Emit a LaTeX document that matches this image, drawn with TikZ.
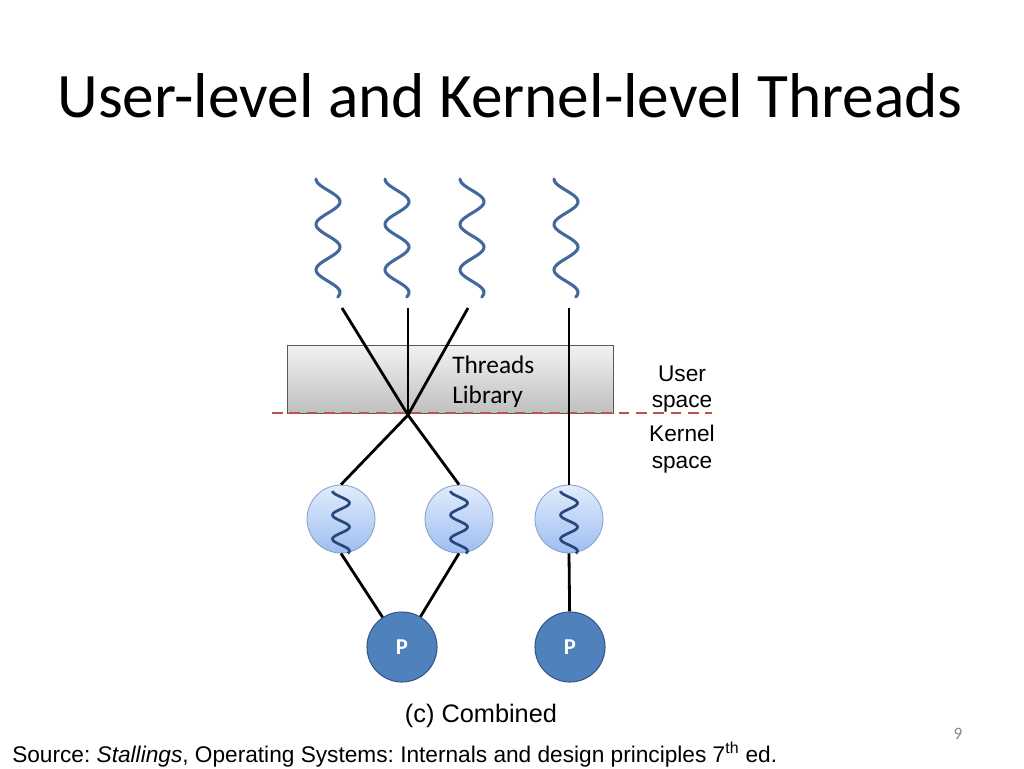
\documentclass[tikz,border=0pt]{standalone}
\usepackage{fontspec}
\setmainfont{Carlito}
\newfontfamily\arialfont{Liberation Sans}
\frenchspacing
\definecolor{wavecol}{RGB}{66,104,158}
\definecolor{kwavecol}{RGB}{40,70,122}
\definecolor{kthreadtop}{RGB}{226,236,252}
\definecolor{kthreadbot}{RGB}{158,190,240}
\definecolor{kring}{RGB}{130,158,205}
\definecolor{pfill}{RGB}{79,129,189}
\definecolor{pline}{RGB}{52,88,134}
\definecolor{dashred}{RGB}{192,80,77}
\definecolor{pagegray}{RGB}{137,137,137}
\tikzset{
  uwave/.style={wavecol, line width=2.3pt, line cap=round},
  kwave/.style={kwavecol, line width=2pt},
  link/.style={black, line width=2.1pt},
  kthread/.style={circle, minimum size=51pt, inner sep=0pt, draw=kring, line width=0.6pt, top color=kthreadtop, bottom color=kthreadbot},
  proc/.style={circle, minimum size=52.5pt, inner sep=0pt, draw=pline, line width=0.8pt, fill=pfill, text=white, font=\bfseries\fontsize{17}{19}\selectfont},
  libbox/.style={rectangle, minimum width=245pt, minimum height=51pt, inner sep=0pt, draw=black!65, line width=0.6pt, top color=black!5, bottom color=black!25},
  sidelabel/.style={align=center, font=\arialfont\fontsize{17}{20}\selectfont}
}

\begin{document}
\begin{tikzpicture}[x=0.75pt,y=0.75pt,yscale=-1,xscale=1]
\useasboundingbox (0,0) rectangle (1024,768);
\fill[white] (0,0) rectangle (1024,768);

% title
\node (title) at (510,96) {\fontsize{47.5}{53}\selectfont User-level and Kernel-level Threads};

% threads library and the user/kernel border
\node[libbox] (lib) at (450.5,379) {};
\node[anchor=base west, align=left, inner sep=0pt, font=\fontsize{19}{22.5}\selectfont] (libtext) at (452,403) {Threads\\Library};
\draw[dashred, line width=2.2pt, dash pattern=on 8pt off 5pt] (272,413) -- (712,413);
\node[sidelabel] (user) at (682,389) {User\\space};
\node[sidelabel] (kernel) at (682,449) {Kernel\\space};

% user-level threads
\foreach \c/\n in {328/1,397/2,472/3,566/4}
  \draw[uwave] plot[domain=0:2.6, samples=70, smooth] ({\c - 12*cos(\x*360)}, {179 + \x*45.4});
\coordinate (u1) at (342,308);
\coordinate (u2) at (408,308);
\coordinate (u3) at (468,308);
\coordinate (u4) at (569,308);
\coordinate (cross) at (408,415);

% kernel-level threads
\node[kthread] (k1) at (341,519) {};
\node[kthread] (k2) at (459,519) {};
\node[kthread] (k3) at (569,519) {};
\foreach \n in {1,2,3}
  \draw[kwave, shift={(k\n.center)}] plot[domain=0:2.6, samples=60, smooth] ({-8.5*cos(\x*360)}, {-28 + \x*24});

% processors
\node[proc] (p1) at (402,647) {P};
\node[proc] (p2) at (570,647) {P};

% mappings
\draw[link] (u1) -- (cross) -- (k2.north);
\draw[link] (u2) -- (cross);
\draw[link] (u3) -- (cross) -- (k1.north);
\draw[link] (u4) -- (k3.north);
\draw[link] (k1.south) -- (p1);
\draw[link] (k2.south) -- (p1);
\draw[link] (k3.south) -- (p2);

% captions
\node[font=\arialfont\fontsize{19}{22}\selectfont] (caption) at (481,716) {(c) Combined};
\node[anchor=base west, inner sep=0pt, font=\arialfont\fontsize{17}{20}\selectfont] (source) at (12,762) {Source: \textit{Stallings}, Operating Systems: Internals and design principles 7\textsuperscript{th} ed.};
\node[text=pagegray, font=\fontsize{13}{15}\selectfont] (page) at (958,734) {9};
\end{tikzpicture}
\end{document}
